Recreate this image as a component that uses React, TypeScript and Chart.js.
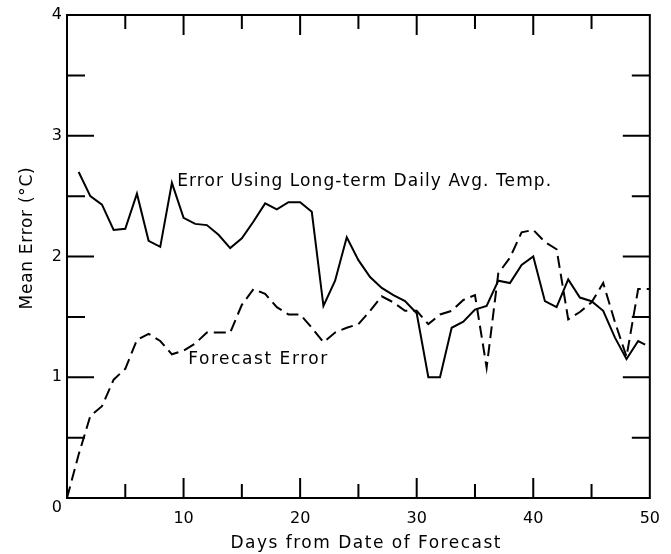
import React, { useEffect, useRef } from "react";
import { Chart, registerables } from "chart.js";

Chart.register(...registerables);

// Long-term daily average temperature error (solid)
const solidDays = [1, 2, 3, 4, 5, 6, 7, 8, 9, 10, 11, 12, 13, 14, 15, 16, 17, 18, 19, 20, 21, 22, 23, 24, 25, 26, 27, 28, 29, 30, 31, 32, 33, 34, 35, 36, 37, 38, 39, 40, 41, 42, 43, 44, 45, 46, 47, 48, 49, 49.6];
const solidValues = [2.70, 2.50, 2.43, 2.22, 2.23, 2.52, 2.13, 2.08, 2.61, 2.32, 2.27, 2.26, 2.18, 2.07, 2.15, 2.29, 2.44, 2.39, 2.45, 2.45, 2.37, 1.59, 1.80, 2.16, 1.97, 1.83, 1.74, 1.68, 1.63, 1.53, 1.00, 1.00, 1.41, 1.46, 1.56, 1.59, 1.80, 1.78, 1.93, 2.00, 1.63, 1.58, 1.81, 1.66, 1.63, 1.55, 1.33, 1.15, 1.30, 1.27];

// Forecast error (dashed)
const dashedDays = [0, 1, 2, 3, 4, 5, 6, 7, 8, 9, 10, 11, 12, 13, 14, 15, 16, 17, 18, 19, 20, 21, 22, 23, 24, 25, 26, 27, 28, 29, 30, 31, 32, 33, 34, 35, 36, 37, 38, 39, 40, 41, 42, 43, 44, 45, 46, 47, 48, 49, 50];
const dashedValues = [0, 0.36, 0.68, 0.76, 0.98, 1.07, 1.31, 1.36, 1.30, 1.19, 1.22, 1.28, 1.37, 1.37, 1.37, 1.60, 1.73, 1.69, 1.58, 1.52, 1.52, 1.41, 1.29, 1.37, 1.41, 1.44, 1.55, 1.67, 1.62, 1.55, 1.55, 1.44, 1.52, 1.55, 1.64, 1.68, 1.08, 1.86, 1.99, 2.20, 2.22, 2.12, 2.06, 1.48, 1.54, 1.62, 1.78, 1.46, 1.17, 1.73, 1.73];

const xTickLabels = [10, 20, 30, 40, 50];
const yTickLabels = [1, 2, 3, 4];

const solidLabel = "Error Using Long-term Daily Avg. Temp.";
const dashedLabel = "Forecast Error";
const xTitle = "Days from Date of Forecast";
const yTitle = "Mean Error (°C)";

const FONT = "'DejaVu Sans', sans-serif";

function drawSpaced(ctx: CanvasRenderingContext2D, text: string, x: number, y: number, targetW: number) {
  (ctx as any).letterSpacing = "0px";
  const w = ctx.measureText(text).width;
  const sp = (targetW - w) / Math.max(1, text.length - 1);
  (ctx as any).letterSpacing = sp.toFixed(2) + "px";
  ctx.fillText(text, x, y);
  (ctx as any).letterSpacing = "0px";
}

const framePlugin = {
  id: "frameTicks",
  afterDraw(chart: any) {
    const { ctx, chartArea: a, scales } = chart;
    const xs = scales.x;
    const ys = scales.y;
    ctx.save();
    ctx.strokeStyle = "#000";
    ctx.lineWidth = 2;
    ctx.strokeRect(a.left, a.top, a.right - a.left, a.bottom - a.top);
    ctx.beginPath();
    for (let d = 5; d < 50; d += 5) {
      const px = xs.getPixelForValue(d);
      const len = d % 10 === 0 ? 20 : 14;
      ctx.moveTo(px, a.bottom);
      ctx.lineTo(px, a.bottom - len);
      ctx.moveTo(px, a.top);
      ctx.lineTo(px, a.top + len);
    }
    for (let v = 0.5; v < 4; v += 0.5) {
      const py = ys.getPixelForValue(v);
      const len = Number.isInteger(v) ? 27 : 18;
      ctx.moveTo(a.left, py);
      ctx.lineTo(a.left + len, py);
      ctx.moveTo(a.right, py);
      ctx.lineTo(a.right - len, py);
    }
    ctx.stroke();

    ctx.fillStyle = "#000";
    ctx.font = `16px ${FONT}`;
    ctx.textAlign = "right";
    ctx.textBaseline = "middle";
    ctx.fillText("0", a.left - 5, a.bottom + 10);

    ctx.font = `17px ${FONT}`;
    ctx.textAlign = "left";
    ctx.textBaseline = "middle";
    drawSpaced(ctx, solidLabel, xs.getPixelForValue(9.45), ys.getPixelForValue(2.62), 374);
    drawSpaced(ctx, dashedLabel, xs.getPixelForValue(10.4), ys.getPixelForValue(1.15), 139);

    // axis titles
    const xc = (a.left + a.right) / 2 + 7;
    ctx.textAlign = "left";
    ctx.textBaseline = "middle";
    drawSpaced(ctx, xTitle, xc - 135, a.bottom + 46, 270);

    ctx.save();
    ctx.translate(28, ys.getPixelForValue(2.15));
    ctx.rotate(-Math.PI / 2);
    drawSpaced(ctx, yTitle, -71, 0, 142);
    ctx.restore();

    ctx.restore();
  },
};

export default function App() {
  const ref = useRef<HTMLCanvasElement | null>(null);
  useEffect(() => {
    if (!ref.current) return;
    const chart = new Chart(ref.current, {
      type: "line",
      data: {
        datasets: [
          {
            label: solidLabel,
            data: solidDays.map((d, i) => ({ x: d, y: solidValues[i] })),
            borderColor: "#000",
            borderWidth: 2,
            pointRadius: 0,
            tension: 0,
            fill: false,
          },
          {
            label: dashedLabel,
            data: dashedDays.map((d, i) => ({ x: d, y: dashedValues[i] })),
            borderColor: "#000",
            borderWidth: 2,
            borderDash: [12, 6],
            pointRadius: 0,
            tension: 0,
            fill: false,
          },
        ],
      },
      options: {
        animation: false,
        responsive: true,
        maintainAspectRatio: false,
        layout: { padding: { left: 0, top: 15, right: 18, bottom: 0 } },
        plugins: { legend: { display: false }, tooltip: { enabled: false } },
        scales: {
          x: {
            type: "linear",
            min: 0,
            max: 50,
            afterFit: (s: any) => { s.height = 56; },
            grid: { display: false, drawTicks: false },
            border: { display: false },
            ticks: {
              stepSize: 5,
              padding: 11,
              color: "#000",
              font: { family: FONT, size: 16 },
              maxRotation: 0,
              autoSkip: false,
              callback: (v: any) => (xTickLabels.includes(v) ? String(v) : ""),
            },
            title: { display: false, text: xTitle },
          },
          y: {
            min: 0,
            max: 4,
            afterFit: (s: any) => { s.width = 67; },
            grid: { display: false, drawTicks: false },
            border: { display: false },
            ticks: {
              stepSize: 0.5,
              padding: 5,
              color: "#000",
              font: { family: FONT, size: 16 },
              autoSkip: false,
              callback: (v: any) => (yTickLabels.includes(v) ? String(v) : ""),
            },
            title: { display: false, text: yTitle },
          },
        },
      },
      plugins: [framePlugin],
    } as any);
    return () => chart.destroy();
  }, []);
  return (
    <div style={{ position: "fixed", left: 0, top: 0, width: 671, height: 554, background: "#fff" }}>
      <canvas ref={ref} />
    </div>
  );
}
